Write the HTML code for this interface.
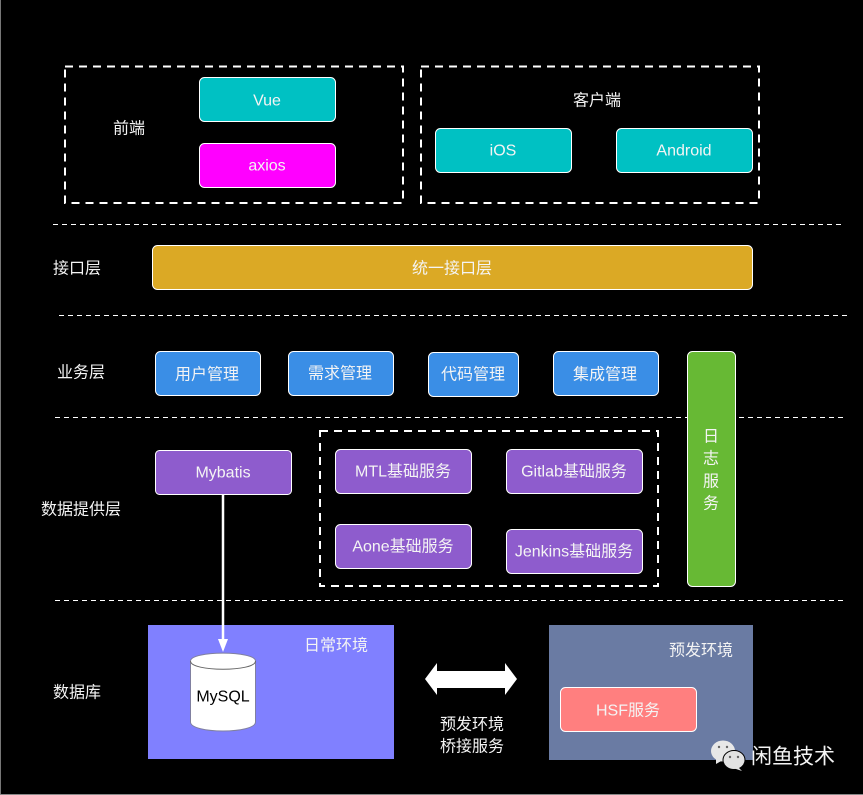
<!DOCTYPE html>
<html><head><meta charset="utf-8"><style>
html,body{margin:0;padding:0;background:#000;width:863px;height:795px;overflow:hidden}
svg{display:block}
text{font-family:"Liberation Sans","Noto Sans CJK SC",sans-serif;font-size:16px;fill:#f4f4f4;text-anchor:middle;dominant-baseline:central;transform:translateY(1px)}
.b{stroke:#fff;stroke-width:1}
.d{fill:none;stroke:#fff;stroke-width:2;stroke-dasharray:8 6}
.l{fill:none;stroke:#fff;stroke-width:1;stroke-dasharray:5 4}
</style></head><body>
<svg width="863" height="795" viewBox="0 0 863 795" xmlns="http://www.w3.org/2000/svg">
<rect width="863" height="795" fill="#000"/>
<rect x="0" y="0" width="1" height="795" fill="#777"/>
<rect x="0" y="794" width="863" height="1" fill="#888"/>

<rect class="d" x="65" y="66.500" width="338" height="136.500"/>
<rect class="d" x="421" y="66.500" width="338" height="136.500"/>
<text x="129" y="128">前端</text>
<text x="597" y="100">客户端</text>
<rect class="b" x="199.500" y="77.500" width="136" height="44" rx="5" fill="#00c1c3"/>
<text x="267" y="100">Vue</text>
<rect class="b" x="199.500" y="143.500" width="136" height="44" rx="5" fill="#ff00ff"/>
<text x="267" y="165">axios</text>
<rect class="b" x="435.500" y="128.500" width="136" height="44" rx="5" fill="#00c1c3"/>
<text x="503" y="150">iOS</text>
<rect class="b" x="616.500" y="128.500" width="136" height="44" rx="5" fill="#00c1c3"/>
<text x="684" y="150">Android</text>

<line class="l" x1="53" y1="224.500" x2="842" y2="224.500"/>
<text x="77" y="268">接口层</text>
<rect class="b" x="152.500" y="245.500" width="600" height="44" rx="5" fill="#dba925"/>
<text x="452" y="268">统一接口层</text>

<line class="l" x1="59" y1="315.500" x2="848" y2="315.500"/>
<text x="81" y="372">业务层</text>
<rect class="b" x="155.500" y="351.500" width="105" height="44" rx="5" fill="#3a8ee6"/>
<text x="207" y="374">用户管理</text>
<rect class="b" x="288.500" y="351.500" width="105" height="44" rx="5" fill="#3a8ee6"/>
<text x="340" y="373">需求管理</text>
<rect class="b" x="428.500" y="352.500" width="90" height="44" rx="5" fill="#3a8ee6"/>
<text x="473" y="374">代码管理</text>
<rect class="b" x="553.500" y="351.500" width="105" height="44" rx="5" fill="#3a8ee6"/>
<text x="605" y="374">集成管理</text>

<line class="l" x1="55" y1="417.500" x2="844" y2="417.500"/>
<rect class="b" x="687.500" y="351.500" width="48" height="235" rx="5" fill="#67b934"/>
<text x="711" y="436">日</text>
<text x="711" y="458">志</text>
<text x="711" y="481">服</text>
<text x="711" y="503">务</text>

<text x="81" y="509">数据提供层</text>
<rect class="b" x="155.500" y="450.500" width="136" height="44" rx="4" fill="#8e5ccd"/>
<text x="223" y="472">Mybatis</text>
<rect class="d" x="320" y="431" width="338" height="155"/>
<rect class="b" x="335.500" y="449.500" width="136" height="44" rx="5" fill="#8e5ccd"/>
<text x="403" y="471">MTL基础服务</text>
<rect class="b" x="506.500" y="449.500" width="136" height="44" rx="5" fill="#8e5ccd"/>
<text x="574" y="471">Gitlab基础服务</text>
<rect class="b" x="335.500" y="524.500" width="136" height="44" rx="5" fill="#8e5ccd"/>
<text x="403" y="546">Aone基础服务</text>
<rect class="b" x="506.500" y="529.500" width="136" height="44" rx="5" fill="#8e5ccd"/>
<text x="574" y="551">Jenkins基础服务</text>

<line class="l" x1="55" y1="600.500" x2="846" y2="600.500"/>
<text x="77" y="692">数据库</text>

<rect x="148" y="625" width="246" height="134" fill="#8080ff"/>
<text x="336" y="645">日常环境</text>
<line x1="223" y1="494" x2="223" y2="640" stroke="#fff" stroke-width="2.500"/>
<polygon points="218,639 228,639 223,652" fill="#fff"/>
<path d="M190.500,661 C190.500,650.500 255.500,650.500 255.500,661 V722 C255.500,734 190.500,734 190.500,722 Z" fill="#fff" stroke="#8080a0" stroke-width="1"/>
<path d="M190.500,661 C190.500,672 255.500,672 255.500,661" fill="none" stroke="#666" stroke-width="1"/>
<text x="223" y="696" style="fill:#000">MySQL</text>

<polygon points="425,679 437,663 437,671 505,671 505,663 517,679 505,695 505,688 437,688 437,695" fill="#fff"/>
<text x="472" y="724">预发环境</text>
<text x="472" y="746">桥接服务</text>

<rect x="549" y="625" width="204" height="135" fill="#6a7ba3"/>
<text x="701" y="650">预发环境</text>
<rect class="b" x="560.500" y="687.500" width="136" height="44" rx="5" fill="#ff7f7f"/>
<text x="628" y="710">HSF服务</text>

<ellipse cx="723" cy="751" rx="12" ry="10.500" fill="#e8e8e8"/>
<polygon points="716,757 716,764 723,760" fill="#e8e8e8"/>
<ellipse cx="734" cy="760" rx="11" ry="9.500" fill="#e2e2e2" stroke="#000" stroke-width="1"/>
<polygon points="738,767 742,771 733,768" fill="#e2e2e2"/>
<circle cx="719" cy="747" r="1.200" fill="#666"/><circle cx="727" cy="747" r="1.200" fill="#666"/>
<circle cx="730" cy="757" r="1.200" fill="#666"/><circle cx="738" cy="757" r="1.200" fill="#666"/>
<text x="793" y="756" style="font-size:21px">闲鱼技术</text>
</svg>
</body></html>
